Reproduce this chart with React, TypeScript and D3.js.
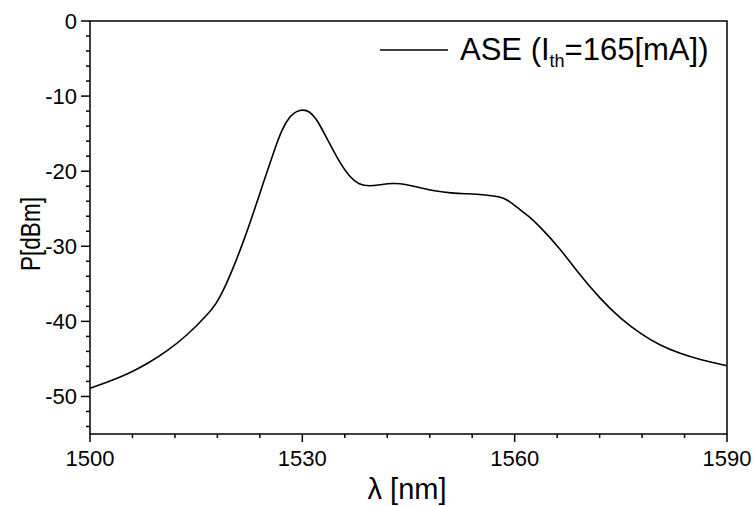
import React from "react";
import * as d3 from "d3";

const wavelength = [
  1500, 1502.5, 1505.4, 1508.2, 1511, 1513.8, 1516.7, 1517.8, 1518.8, 1520.2, 1521.7,
  1522.6, 1523.6, 1524.4, 1525.9, 1527.1, 1528.3, 1529.2, 1530.1, 1531, 1532, 1532.5,
  1533.9, 1535.3, 1536.7, 1538, 1539.5, 1541, 1542.8, 1544.5, 1546.6, 1549, 1551,
  1553, 1555.5, 1557.9, 1559, 1560.3, 1562, 1563.6, 1566.4, 1569.2, 1572.1, 1574.9,
  1577.7, 1580.5, 1583.4, 1586.2, 1590,
];
const power = [
  -48.9, -48.1, -47.0, -45.6, -43.9, -41.8, -39.0, -37.7, -36.0, -33.0, -29.3,
  -26.9, -24.1, -21.8, -17.6, -14.4, -12.6, -12.0, -11.8, -12.0, -13.1, -13.9,
  -16.4, -18.9, -20.8, -21.8, -22.0, -21.8, -21.6, -21.7, -22.2, -22.7, -22.9,
  -23.0, -23.1, -23.4, -23.8, -24.8, -26.0, -27.4, -30.3, -33.8, -37.0, -39.6,
  -41.6, -43.2, -44.3, -45.1, -45.9,
];
const xTicks = [1500, 1530, 1560, 1590];
const yTicks = [0, -10, -20, -30, -40, -50];
const seriesName = "ASE (I";
const seriesSub = "th";
const seriesTail = "=165[mA])";

export default function App() {
  const W = 755, H = 506;
  const L = 90, R = 727, T = 21, B = 434;
  const x = d3.scaleLinear().domain([1500, 1590]).range([L, R]);
  const y = d3.scaleLinear().domain([-55, 0]).range([B, T]);
  const data = wavelength.map((w, i) => [w, power[i]] as [number, number]);
  const line = d3
    .line<[number, number]>()
    .x((d) => x(d[0]))
    .y((d) => y(d[1]))
    .curve(d3.curveBasis);
  const xMinor = d3.range(1500, 1590.01, 6).filter((v) => !xTicks.includes(v));
  const yMinor = d3.range(-54, 0.01, 2).filter((v) => !yTicks.includes(v));
  const font = "'Liberation Sans', Arial, sans-serif";
  return (
    <svg
      width={W}
      height={H}
      style={{ position: "absolute", left: 0, top: 0, background: "#fff" }}
      fontFamily={font}
    >
      <rect x={0} y={0} width={W} height={H} fill="#fff" />
      <path d={line(data) || ""} fill="none" stroke="#000" strokeWidth={1.6} />
      <rect x={L} y={T} width={R - L} height={B - T} fill="none" stroke="#000" strokeWidth={1.5} />
      {xTicks.map((t) => (
        <g key={"xt" + t}>
          <line x1={x(t)} x2={x(t)} y1={B} y2={B + 8} stroke="#000" strokeWidth={1.5} />
          <text x={x(t)} y={466} textAnchor="middle" fontSize={22} fill="#000">
            {t}
          </text>
        </g>
      ))}
      {xMinor.map((t) => (
        <line key={"xm" + t} x1={x(t)} x2={x(t)} y1={B} y2={B + 4} stroke="#000" strokeWidth={1.5} />
      ))}
      {yTicks.map((t) => (
        <g key={"yt" + t}>
          <line x1={L - 9} x2={L} y1={y(t)} y2={y(t)} stroke="#000" strokeWidth={1.5} />
          <text x={77} y={y(t) + 7.5} textAnchor="end" fontSize={22} fill="#000">
            {t}
          </text>
        </g>
      ))}
      {yMinor.map((t) => (
        <line key={"ym" + t} x1={L - 4} x2={L} y1={y(t)} y2={y(t)} stroke="#000" strokeWidth={1.5} />
      ))}
      <text
        transform={`translate(40,234) rotate(-90)`}
        textAnchor="middle"
        fontSize={27}
        textLength={74}
        lengthAdjust="spacingAndGlyphs"
        fill="#000"
      >
        P[dBm]
      </text>
      <text x={407} y={499} textAnchor="middle" fontSize={29} fill="#000">
        λ [nm]
      </text>
      <line x1={380} x2={448} y1={50} y2={50} stroke="#000" strokeWidth={1.5} />
      <text x={460} y={60} fontSize={31} fill="#000">
        {seriesName}
        <tspan fontSize={18} dy={7}>
          {seriesSub}
        </tspan>
        <tspan dy={-7}>{seriesTail}</tspan>
      </text>
    </svg>
  );
}
